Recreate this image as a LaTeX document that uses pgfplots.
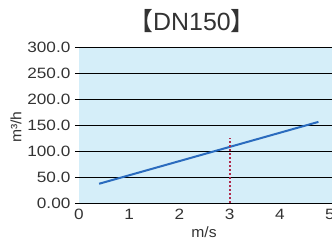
\documentclass[border=0pt]{standalone}
\usepackage{fontspec}
\setmainfont{Liberation Sans}
\newfontfamily\cjk{Noto Sans CJK SC}
\usepackage{pgfplots}
\pgfplotsset{compat=1.18}
\definecolor{bgblue}{HTML}{D5EEF9}
\definecolor{lineblue}{HTML}{2A6BBE}
\definecolor{dotred}{HTML}{B02A4C}
\definecolor{txt}{HTML}{333333}
\begin{document}
\begin{tikzpicture}[x=1bp,y=1bp]
\begin{axis}[
  at={(79bp,37bp)}, anchor=south west, scale only axis,
  width=253bp, height=156bp,
  xmin=0, xmax=5.04, ymin=0, ymax=300,
  axis line style={draw=none},
  ytick={0,50,100,150,200,250,300},
  yticklabels={0.00,50.0,100.0,150.0,200.0,250.0,300.0},
  xtick={0,1,2,3,4,5},
  ymajorgrids, grid style={black, line width=0.9bp},
  tick align=outside, major tick length=4bp,
  ytick style={black, line width=0.9bp},
  xtick style={draw=none},
  /pgf/number format/assume math mode=true,
  tick label style={font=\fontsize{15}{17}\selectfont, text=txt, xscale=1.15},
  yticklabel style={xshift=-0.5bp},
  xticklabel style={yshift=1bp},
  axis background/.style={fill=bgblue},
]
\addplot[lineblue, line width=2bp] coordinates {(0.4,37) (4.77,156)};
\addplot[dotred, line width=2bp, dash pattern=on 2bp off 2bp] coordinates {(3,0) (3,125)};
\end{axis}
\node[text=txt] at (192,219) {\fontsize{25}{28}\selectfont{\cjk 【}DN150{\cjk 】}};
\node[rotate=90, text=txt, xscale=1.05] at (16,113) {\fontsize{15}{17}\selectfont m³/h};
\node[text=txt, xscale=1.05] at (204,8) {\fontsize{15}{17}\selectfont m/s};
\pgfresetboundingbox
\path[use as bounding box] (0,0) rectangle (332,240);
\end{tikzpicture}
\end{document}
